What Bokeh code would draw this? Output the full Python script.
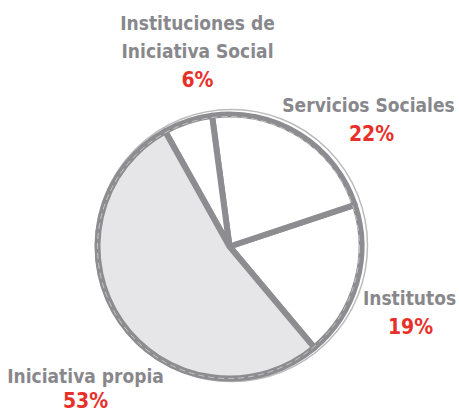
import math
from bokeh.plotting import figure
from bokeh.models import Range1d, ColumnDataSource
from bokeh.embed import file_html
from bokeh.resources import INLINE
from bokeh.core.properties import value

# ---- data ----
categories = ["Institutos", "Servicios Sociales", "Instituciones de\nIniciativa Social", "Iniciativa propia"]
percents = [19, 22, 6, 53]
pct_labels = ["19%", "22%", "6%", "53%"]

# ---- layout (page pixels) ----
W, H = 459, 414
def Y(py):
    return H - py

cx, cy, r = 229, Y(246), 132
start_deg = -50.0
fills = ["#ffffff", "#ffffff", "#ffffff", "#e6e6e8"]
label_pos = [(409, 297), (368, 104), (197, 22), (85, 375)]
pct_pos = [(410, 326), (371, 133), (197, 79), (85, 400)]

total = sum(percents)
starts, ends = [], []
a = math.radians(start_deg)
for v in percents:
    starts.append(a)
    a += 2 * math.pi * v / total
    ends.append(a)

p = figure(width=W, height=H, output_backend="svg", toolbar_location=None,
           x_range=Range1d(0, W), y_range=Range1d(0, H),
           min_border=0)
p.axis.visible = False
p.grid.visible = False
p.outline_line_color = None
p.background_fill_color = "white"

gray = "#8d8d91"
src = ColumnDataSource(dict(start=starts, end=ends, fill=fills))
p.wedge(x=cx, y=cy, radius=r, start_angle="start", end_angle="end", source=src,
        fill_color="fill", line_color=gray, line_width=6, line_join="round")
# hand-drawn style extra strokes
p.circle(x=[cx + 2], y=[cy + 1], radius=r + 4, fill_color=None, line_color=gray,
         line_width=1.5, line_alpha=0.6)
p.circle(x=[cx - 1], y=[cy - 1], radius=r - 1, fill_color=None, line_color="#ffffff",
         line_width=0.8, line_alpha=0.6, line_dash="6 4")

font = value("'Liberation Sans Narrow', 'Arial Narrow', 'DejaVu Sans Condensed', sans-serif")
lx, ly, lt = [], [], []
for cat, (x, y) in zip(categories, label_pos):
    for i, ln in enumerate(cat.split("\n")):
        lx.append(x)
        ly.append(Y(y + i * 28))
        lt.append(ln)
p.text(x=lx, y=ly, text=lt, text_font=font, text_font_size="19px",
       text_font_style="bold", text_color="#88888c", text_align="center",
       text_baseline="middle")
p.text(x=[q[0] for q in pct_pos], y=[Y(q[1]) for q in pct_pos], text=pct_labels,
       text_font=font, text_font_size="21px", text_font_style="bold",
       text_color="#e8302a", text_align="center", text_baseline="middle")

open("out.html", "w").write(file_html(p, INLINE))
